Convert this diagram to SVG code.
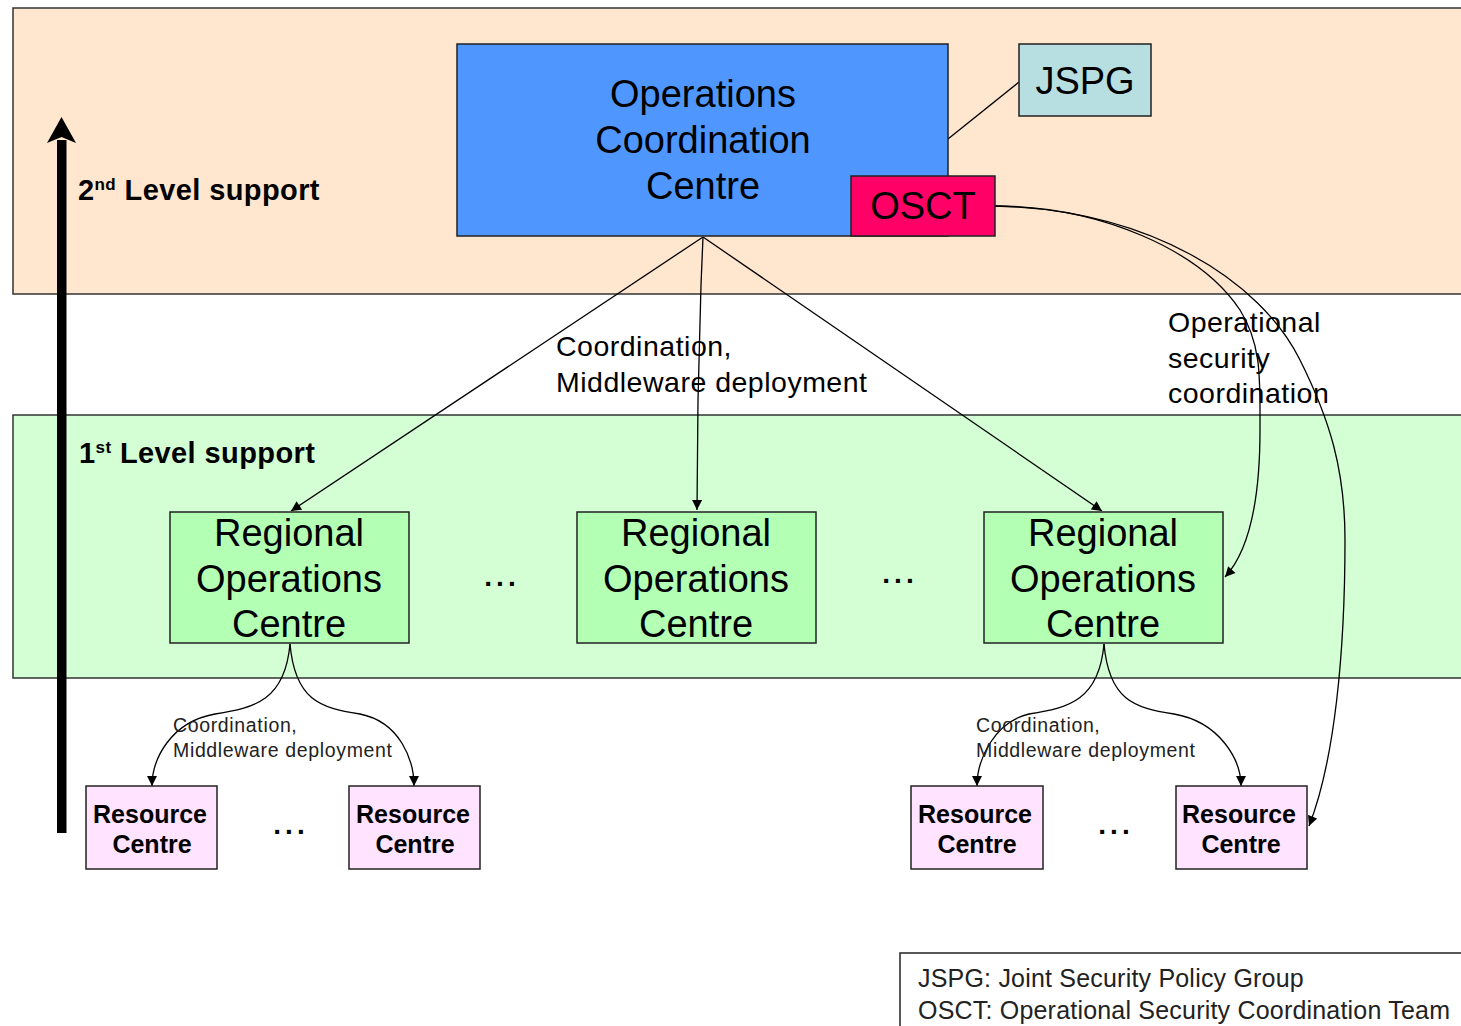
<svg xmlns="http://www.w3.org/2000/svg" width="1461" height="1026" viewBox="0 0 1461 1026">
<defs>
<style>
.band{stroke:#333;stroke-width:1.5}
.box{stroke:#222;stroke-width:1.5}
.big{font-family:"Liberation Sans",Arial,sans-serif;font-size:38px;fill:#000;text-anchor:middle}
.rc{font-family:"Liberation Sans",Arial,sans-serif;font-size:25px;font-weight:bold;fill:#000;text-anchor:middle}
.lvl{font-family:"Liberation Sans",Arial,sans-serif;font-size:29px;font-weight:bold;fill:#000;letter-spacing:0.4px}
.lbl{font-family:"Liberation Sans",Arial,sans-serif;font-size:28.5px;fill:#000;letter-spacing:0.5px}
.sm{font-family:"Liberation Sans",Arial,sans-serif;font-size:19.5px;fill:#222;letter-spacing:0.65px}
.leg{font-family:"Liberation Sans",Arial,sans-serif;font-size:25px;fill:#222;letter-spacing:0.2px}
.dots{font-family:"Liberation Sans",Arial,sans-serif;font-size:28px;font-weight:bold;fill:#000;letter-spacing:4px;text-anchor:middle}
.c{fill:none;stroke:#000;stroke-width:1.3}
</style>
<marker id="ah" viewBox="0 0 10 10" refX="10" refY="5" markerWidth="11" markerHeight="10" markerUnits="userSpaceOnUse" orient="auto">
<path d="M0,0 L10,5 L0,10 Z" fill="#000"/>
</marker>
</defs>

<g id="bands">
<rect class="band" x="13" y="8" width="1460" height="286" fill="#FFE6CF"/>
<rect class="band" x="13" y="415" width="1460" height="263" fill="#D4FFD4"/>
</g>

<g id="level-arrow">
<rect x="57" y="140" width="9.5" height="693" fill="#000"/>
<path d="M61.5,117 L76,143 L61.5,137 L47,143 Z" fill="#000"/>
</g>
<g id="level2-label"><text class="lvl" x="78" y="200">2<tspan font-size="17" dy="-10">nd</tspan><tspan dy="10"> Level support</tspan></text></g>
<g id="level1-label"><text class="lvl" x="79" y="463">1<tspan font-size="17" dy="-10">st</tspan><tspan dy="10"> Level support</tspan></text></g>

<g id="connectors">
<line class="c" x1="948" y1="139" x2="1019" y2="82"/>
<line class="c" x1="703" y1="237" x2="291" y2="511" marker-end="url(#ah)"/>
<path class="c" d="M703,237 L701,285 L698,400 L697,510" marker-end="url(#ah)"/>
<line class="c" x1="703" y1="237" x2="1102" y2="511" marker-end="url(#ah)"/>
<path class="c" d="M995,206 C1100,206 1200,250 1240,310 C1262,345 1260,380 1260,430 C1260,500 1250,550 1225,577" marker-end="url(#ah)"/>
<path class="c" d="M995,206 C1150,210 1260,280 1300,360 C1330,420 1345,470 1345,540 C1345,650 1335,760 1309,826" marker-end="url(#ah)"/>
<path class="c" d="M290,644 C285,700 255,708 215,714 C170,722 152,760 152,786" marker-end="url(#ah)"/>
<path class="c" d="M290,644 C295,700 320,708 360,714 C400,722 414,760 414,786" marker-end="url(#ah)"/>
<path class="c" d="M1104,644 C1099,700 1069,708 1029,714 C994,722 977,760 977,786" marker-end="url(#ah)"/>
<path class="c" d="M1104,644 C1109,700 1134,708 1174,714 C1220,722 1241,760 1241,786" marker-end="url(#ah)"/>
</g>

<g id="occ">
<rect class="box" x="457" y="44" width="491" height="192" fill="#4F97FF"/>
<text class="big" x="703" y="107">Operations</text>
<text class="big" x="703" y="153">Coordination</text>
<text class="big" x="703" y="199">Centre</text>
</g>
<g id="osct">
<rect class="box" x="851" y="176" width="144" height="60" fill="#FF0066"/>
<text class="big" x="923" y="219" font-size="37">OSCT</text>
</g>
<g id="jspg">
<rect class="box" x="1019" y="44" width="132" height="72" fill="#B7DFE1"/>
<text class="big" x="1085" y="94" font-size="37">JSPG</text>
</g>

<g id="roc1">
<rect class="box" x="170" y="512" width="239" height="131" fill="#B3FFB3"/>
<text class="big" x="289" y="546">Regional</text>
<text class="big" x="289" y="592">Operations</text>
<text class="big" x="289" y="637">Centre</text>
</g>
<g id="roc2">
<rect class="box" x="577" y="512" width="239" height="131" fill="#B3FFB3"/>
<text class="big" x="696" y="546">Regional</text>
<text class="big" x="696" y="592">Operations</text>
<text class="big" x="696" y="637">Centre</text>
</g>
<g id="roc3">
<rect class="box" x="984" y="512" width="239" height="131" fill="#B3FFB3"/>
<text class="big" x="1103" y="546">Regional</text>
<text class="big" x="1103" y="592">Operations</text>
<text class="big" x="1103" y="637">Centre</text>
</g>

<g id="rc1">
<rect class="box" x="86" y="786" width="131" height="83" fill="#FFE3FF"/>
<text class="rc" x="150" y="823">Resource</text>
<text class="rc" x="152" y="853">Centre</text>
</g>
<g id="rc2">
<rect class="box" x="349" y="786" width="131" height="83" fill="#FFE3FF"/>
<text class="rc" x="413" y="823">Resource</text>
<text class="rc" x="415" y="853">Centre</text>
</g>
<g id="rc3">
<rect class="box" x="911" y="786" width="132" height="83" fill="#FFE3FF"/>
<text class="rc" x="975" y="823">Resource</text>
<text class="rc" x="977" y="853">Centre</text>
</g>
<g id="rc4">
<rect class="box" x="1176" y="786" width="131" height="83" fill="#FFE3FF"/>
<text class="rc" x="1239" y="823">Resource</text>
<text class="rc" x="1241" y="853">Centre</text>
</g>

<g id="ellipses">
<text class="dots" x="502" y="586">...</text>
<text class="dots" x="900" y="583">...</text>
<text class="dots" x="291" y="834">...</text>
<text class="dots" x="1116" y="834">...</text>
</g>

<g id="labels">
<text class="lbl" x="556" y="356">Coordination,</text>
<text class="lbl" x="556" y="392">Middleware deployment</text>
<text class="lbl" x="1168" y="332">Operational</text>
<text class="lbl" x="1168" y="368">security</text>
<text class="lbl" x="1168" y="403">coordination</text>
<text class="sm" x="173" y="732">Coordination,</text>
<text class="sm" x="173" y="757">Middleware deployment</text>
<text class="sm" x="976" y="732">Coordination,</text>
<text class="sm" x="976" y="757">Middleware deployment</text>
</g>

<g id="legend">
<rect x="900" y="953" width="600" height="100" fill="#fff" stroke="#222" stroke-width="1.5"/>
<text class="leg" x="918" y="987">JSPG: Joint Security Policy Group</text>
<text class="leg" x="918" y="1019">OSCT: Operational Security Coordination Team</text>
</g>
</svg>
